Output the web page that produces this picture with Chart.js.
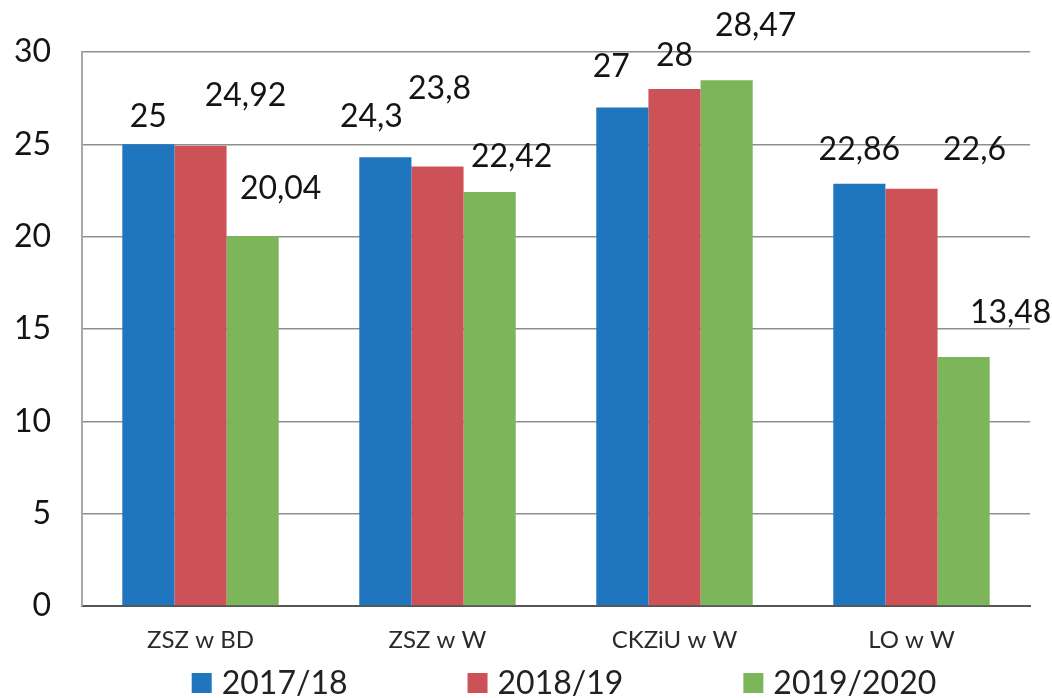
<!DOCTYPE html>
<html>
<head>
<meta charset="utf-8">
<script src="https://cdn.jsdelivr.net/npm/chart.js@4/dist/chart.umd.min.js"></script>
<style>
  html, body { margin: 0; padding: 0; background: #fff; }
  #wrap { width: 1052px; height: 698px; }
</style>
</head>
<body>
<div id="wrap"><canvas id="chart" width="1052" height="698"></canvas></div>
<script>
const categories = ["ZSZ w BD", "ZSZ w W", "CKZiU w W", "LO w W"];
const seriesNames = ["2017/18", "2018/19", "2019/2020"];
const values2017 = [25, 24.3, 27, 22.86];
const values2018 = [24.92, 23.8, 28, 22.6];
const values2019 = [20.04, 22.42, 28.47, 13.48];
const yTicks = [0, 5, 10, 15, 20, 25, 30];

const colors = ["#1f76be", "#cd5257", "#7db65a"];

// hand-placed label offsets (px from top of each bar), like in the original
const labelOffsets = [
  [[0, -28], [-14, -41], [-11, -41], [0, -34]],
  [[45, -50], [2, -78], [0, -33], [63, -39]],
  [[28, -47], [22, -35], [29, -55], [47, -44]]
];

const fontFamily = "Lato, 'Open Sans', sans-serif";

const valueLabels = {
  id: "valueLabels",
  afterDatasetsDraw(chart) {
    const ctx = chart.ctx;
    ctx.save();
    ctx.font = "32px " + fontFamily;
    ctx.fillStyle = "#141414";
    ctx.textAlign = "center";
    ctx.textBaseline = "middle";
    chart.data.datasets.forEach((ds, i) => {
      chart.getDatasetMeta(i).data.forEach((bar, j) => {
        const off = labelOffsets[i][j];
        const txt = String(ds.data[j]).replace(".", ",");
        ctx.fillText(txt, bar.x + off[0], bar.y + off[1]);
      });
    });
    ctx.restore();
  }
};

const bottomLegend = {
  id: "bottomLegend",
  afterDraw(chart) {
    const ctx = chart.ctx;
    const area = chart.chartArea;
    ctx.save();
    ctx.font = "32px " + fontFamily;
    ctx.textBaseline = "middle";
    const box = 20, gapText = 10, gapItem = 120;
    const widths = chart.data.datasets.map(ds => box + gapText + ctx.measureText(ds.label).width);
    const total = widths.reduce((a, b) => a + b, 0) + gapItem * (widths.length - 1);
    let x = (area.left + area.right) / 2 - total / 2 + 8;
    const y = 683;
    chart.data.datasets.forEach((ds, i) => {
      ctx.fillStyle = ds.backgroundColor;
      ctx.fillRect(x, y - box / 2, box, box);
      ctx.fillStyle = "#222";
      ctx.fillText(ds.label, x + box + gapText, y + 1);
      x += widths[i] + gapItem;
    });
    ctx.restore();
  }
};

new Chart(document.getElementById("chart"), {
  type: "bar",
  data: {
    labels: categories,
    datasets: [
      { label: seriesNames[0], data: values2017, backgroundColor: colors[0] },
      { label: seriesNames[1], data: values2018, backgroundColor: colors[1] },
      { label: seriesNames[2], data: values2019, backgroundColor: colors[2] }
    ]
  },
  options: {
    responsive: false,
    animation: false,
    categoryPercentage: 0.66,
    barPercentage: 1,
    layout: { padding: { top: 52, right: 22, bottom: 30, left: 0 } },
    plugins: {
      legend: { display: false },
      tooltip: { enabled: false }
    },
    scales: {
      x: {
        afterFit(scale) { scale.height = 62; },
        grid: { display: false, drawTicks: false },
        border: { color: "#555", width: 2 },
        ticks: {
          padding: 20,
          color: "#2a2a2a",
          font: { family: fontFamily, size: 24 }
        }
      },
      y: {
        min: 0,
        max: 30,
        afterFit(scale) { scale.width = 82; },
        afterBuildTicks(scale) { scale.ticks = yTicks.map(v => ({ value: v })); },
        grid: { color: "#8f8f8f", lineWidth: 1.5, drawTicks: false },
        border: { color: "#a8a8a8", width: 2 },
        ticks: {
          padding: 31,
          color: "#141414",
          font: { family: fontFamily, size: 32 }
        }
      }
    }
  },
  plugins: [valueLabels, bottomLegend]
});
</script>
</body>
</html>
